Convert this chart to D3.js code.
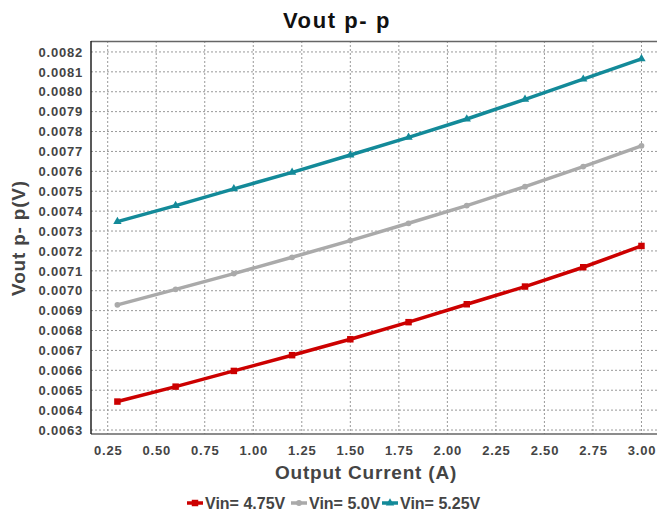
<!DOCTYPE html>
<html><head><meta charset="utf-8">
<script src="https://cdn.jsdelivr.net/npm/d3@7"></script>
<style>
html,body{margin:0;padding:0;background:#fff;}
svg{display:block;font-family:"Liberation Sans",Arial,sans-serif;}
</style></head>
<body>
<svg id="chart" width="657" height="511"></svg>
<script>
const current = [0.3,0.6,0.9,1.2,1.5,1.8,2.1,2.4,2.7,3.0];
const vin475 = [0.006443,0.006518,0.006597,0.006676,0.006756,0.006842,0.006932,0.007021,0.007118,0.007225];
const vin50  = [0.006929,0.007007,0.007086,0.007168,0.007252,0.007339,0.007428,0.007523,0.007624,0.007728];
const vin525 = [0.007347,0.007428,0.007512,0.007595,0.007682,0.007771,0.007863,0.007962,0.008063,0.008165];
const seriesNames = ["Vin= 4.75V","Vin= 5.0V","Vin= 5.25V"];
const xTicks = [0.25,0.5,0.75,1.0,1.25,1.5,1.75,2.0,2.25,2.5,2.75,3.0];
const yTicks = [0.0063,0.0064,0.0065,0.0066,0.0067,0.0068,0.0069,0.0070,0.0071,0.0072,0.0073,0.0074,0.0075,0.0076,0.0077,0.0078,0.0079,0.0080,0.0081,0.0082];

const colors = ["#cc0000","#aaaaaa","#138a99"];
const symbols = [d3.symbolSquare, d3.symbolCircle, d3.symbolTriangle];
const symSizes = [42, 26, 30];

const svg = d3.select("#chart");
const L = 91, T = 41, R = 657, B = 434;
const x = d3.scaleLinear().domain([0.164, 3.08]).range([L, R]);
const y = d3.scaleLinear().domain([0.00628, 0.008255]).range([B, T]);

// grid
const g = svg.append("g");
g.selectAll("line.vx").data(xTicks).join("line")
  .attr("x1", d=>x(d)).attr("x2", d=>x(d)).attr("y1", T).attr("y2", B)
  .attr("stroke","#999").attr("stroke-width",1).attr("stroke-dasharray","2,2");
g.selectAll("line.hy").data(yTicks).join("line")
  .attr("x1", L).attr("x2", R).attr("y1", d=>y(d)).attr("y2", d=>y(d))
  .attr("stroke","#999").attr("stroke-width",1).attr("stroke-dasharray","2,2");

// frame
svg.append("line").attr("x1",L).attr("x2",R).attr("y1",T+0.5).attr("y2",T+0.5).attr("stroke","#666").attr("stroke-width",1.5);
svg.append("line").attr("x1",L).attr("x2",R).attr("y1",B).attr("y2",B).attr("stroke","#666").attr("stroke-width",1.5);
svg.append("line").attr("x1",L).attr("x2",L).attr("y1",T).attr("y2",B).attr("stroke","#222").attr("stroke-width",1.5);

// axes labels via d3 axes
const yAxis = d3.axisLeft(y).tickValues(yTicks).tickFormat(d3.format(".4f")).tickSize(0).tickPadding(8);
const ya = svg.append("g").attr("transform",`translate(${L},0)`).call(yAxis);
ya.select(".domain").remove();
ya.selectAll("text").attr("font-size",13).attr("font-weight","bold").attr("fill","#444")
  .attr("font-family","'Liberation Sans',Arial,sans-serif").style("letter-spacing","0.8px");

const xAxis = d3.axisBottom(x).tickValues(xTicks).tickFormat(d3.format(".2f")).tickSize(0).tickPadding(12);
const xa = svg.append("g").attr("transform",`translate(0,${B})`).call(xAxis);
xa.select(".domain").remove();
xa.selectAll("text").attr("font-size",13).attr("font-weight","bold").attr("fill","#444")
  .attr("font-family","'Liberation Sans',Arial,sans-serif").style("letter-spacing","0.8px");

// series
const allSeries = [vin475, vin50, vin525];
const line = d3.line().x((d,i)=>x(current[i])).y(d=>y(d));
allSeries.forEach((vals, s) => {
  svg.append("path").datum(vals).attr("d", line)
    .attr("fill","none").attr("stroke",colors[s]).attr("stroke-width",3.5);
  svg.selectAll(null).data(vals).join("path")
    .attr("transform",(d,i)=>`translate(${x(current[i])},${y(d)})`)
    .attr("d", d3.symbol().type(symbols[s]).size(symSizes[s]))
    .attr("fill",colors[s]);
});

// titles
svg.append("text").attr("x",337).attr("y",28).attr("text-anchor","middle")
  .attr("font-size",22).attr("font-weight","bold").attr("fill","#111").style("letter-spacing","1.6px").text("Vout p- p");
svg.append("text").attr("x",366).attr("y",479).attr("text-anchor","middle")
  .attr("font-size",19).attr("font-weight","bold").attr("fill","#444").style("letter-spacing","0.8px").text("Output Current (A)");
svg.append("text").attr("transform","translate(25,238) rotate(-90)").attr("text-anchor","middle")
  .attr("font-size",19).attr("font-weight","bold").attr("fill","#444").style("letter-spacing","0.8px").text("Vout p- p(V)");

// legend
const legX = [187, 291, 382];
const lg = svg.append("g");
seriesNames.forEach((name, s) => {
  const lx = legX[s], ly = 503;
  lg.append("line").attr("x1",lx).attr("x2",lx+16).attr("y1",ly).attr("y2",ly).attr("stroke",colors[s]).attr("stroke-width",3.5);
  lg.append("path").attr("transform",`translate(${lx+8},${ly})`)
    .attr("d", d3.symbol().type(symbols[s]).size(symSizes[s])).attr("fill",colors[s]);
  lg.append("text").attr("x",lx+18).attr("y",ly+6).attr("font-size",16).attr("font-weight","bold")
    .attr("fill","#444").style("letter-spacing","0px").text(name);
});
</script>
</body></html>
